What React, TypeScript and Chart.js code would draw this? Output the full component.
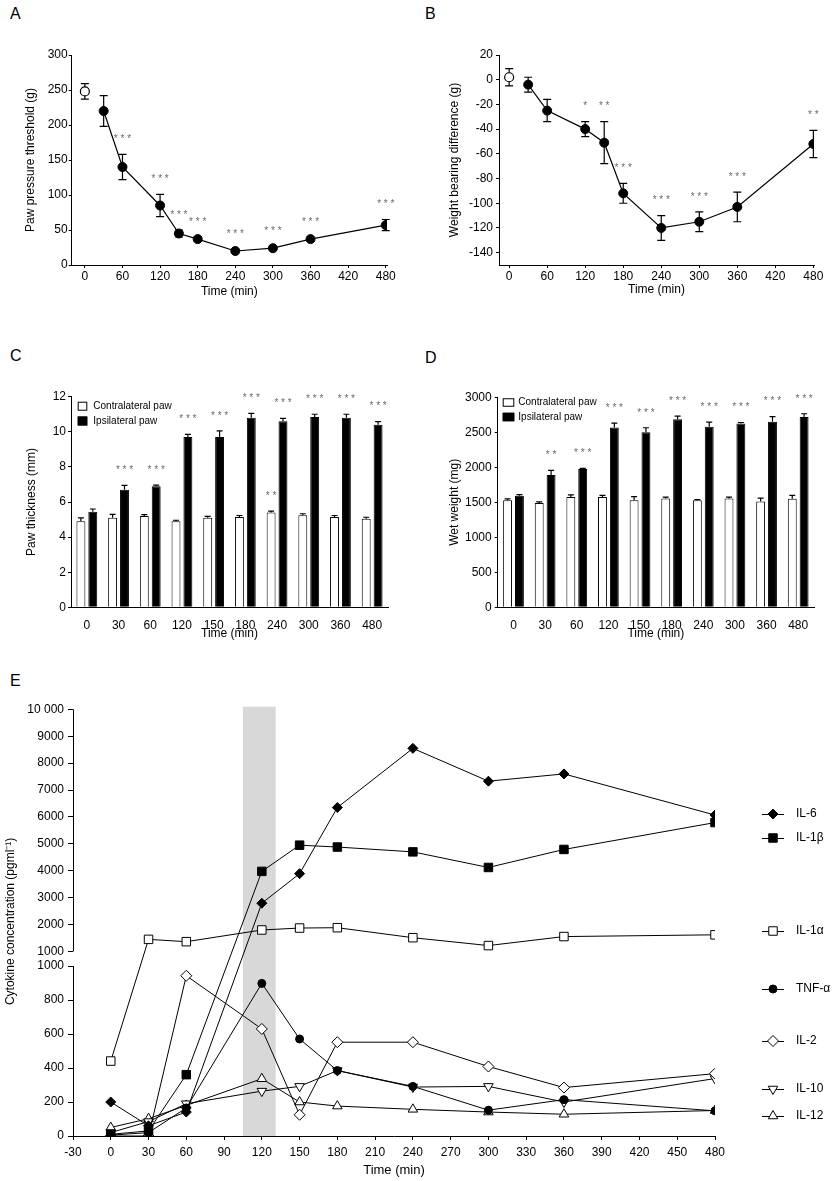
import React, { useEffect, useRef } from 'react';
import { Chart, registerables } from 'chart.js';

Chart.register(...registerables);

const FONT = "'Liberation Sans', Arial, Helvetica, sans-serif";
Chart.defaults.font.family = FONT;
Chart.defaults.color = '#000';

// ---------------- Panel A : paw pressure threshold ----------------
const A_BASE_TIMES = [0];
const A_BASE_VALUES = [248];
const A_BASE_ERRORS = [11];
const A_TIMES = [30, 60, 120, 150, 180, 240, 300, 360, 480];
const A_VALUES = [220, 140, 85, 45, 37, 20, 24, 37, 57];
const A_ERRORS = [22, 18, 16, 5, 3, 2, 3, 3, 8];
const A_STARS = ['', '***', '***', '***', '***', '***', '***', '***', '***'];
const A_X_TICKS = [0, 60, 120, 180, 240, 300, 360, 420, 480];
const A_Y_TICKS = [0, 50, 100, 150, 200, 250, 300];

// ---------------- Panel B : weight bearing difference ----------------
const B_BASE_TIMES = [0];
const B_BASE_VALUES = [2];
const B_BASE_ERRORS = [7];
const B_TIMES = [30, 60, 120, 150, 180, 240, 300, 360, 480];
const B_VALUES = [-4, -25, -40, -51, -92, -120, -115, -103, -52];
const B_ERRORS = [6, 9, 6, 17, 8, 10, 8, 12, 11];
const B_STARS = ['', '', '*', '**', '***', '***', '***', '***', '**'];
const B_X_TICKS = [0, 60, 120, 180, 240, 300, 360, 420, 480];
const B_Y_TICKS = [-140, -120, -100, -80, -60, -40, -20, 0, 20];

// ---------------- Panel C : paw thickness ----------------
const BAR_TIMES = ['0', '30', '60', '120', '150', '180', '240', '300', '360', '480'];
const C_CONTRA = [4.9, 5.1, 5.2, 4.9, 5.1, 5.15, 5.4, 5.25, 5.15, 5.05];
const C_CONTRA_ERR = [0.2, 0.2, 0.08, 0.06, 0.08, 0.08, 0.08, 0.08, 0.08, 0.08];
const C_CONTRA_STARS = ['', '', '', '', '', '', '**', '', '', ''];
const C_IPSI = [5.45, 6.7, 6.9, 9.7, 9.7, 10.8, 10.6, 10.85, 10.8, 10.4];
const C_IPSI_ERR = [0.15, 0.25, 0.06, 0.15, 0.35, 0.25, 0.17, 0.15, 0.2, 0.18];
const C_IPSI_STARS = ['', '***', '***', '***', '***', '***', '***', '***', '***', '***'];
const C_Y_TICKS = [0, 2, 4, 6, 8, 10, 12];

// ---------------- Panel D : wet weight ----------------
const D_CONTRA = [1530, 1490, 1575, 1575, 1530, 1555, 1530, 1555, 1510, 1550];
const D_CONTRA_ERR = [20, 15, 30, 25, 50, 20, 10, 20, 50, 50];
const D_CONTRA_STARS = ['', '', '', '', '', '', '', '', '', ''];
const D_IPSI = [1595, 1890, 1975, 2570, 2500, 2685, 2580, 2625, 2650, 2720];
const D_IPSI_ERR = [15, 65, 10, 60, 65, 45, 65, 15, 75, 45];
const D_IPSI_STARS = ['', '**', '***', '***', '***', '***', '***', '***', '***', '***'];
const D_Y_TICKS = [0, 500, 1000, 1500, 2000, 2500, 3000];

// ---------------- Panel E : cytokines ----------------
const E_TIMES = [0, 30, 60, 120, 150, 180, 240, 300, 360, 480];
const IL6 = [200, 60, 141, 2790, 3890, 6350, 8550, 7330, 7600, 6070];
const IL1B = [10, 30, 361, 3975, 4950, 4880, 4700, 4120, 4790, 5790];
const IL1A = [441, 1446, 1360, 1795, 1867, 1880, 1508, 1215, 1550, 1615];
const TNFA = [5, 20, 165, 898, 571, 385, 292, 152, 214, 148];
const IL2 = [0, 0, 943, 630, 125, 552, 552, 409, 285, 367];
const IL10 = [20, 85, 190, 264, 292, 385, 288, 292, 200, 338];
const IL12 = [50, 102, 180, 337, 200, 176, 157, 141, 128, 150];
const E_SERIES_NAMES = ['IL-6', 'IL-1β', 'IL-1α', 'TNF-α', 'IL-2', 'IL-10', 'IL-12'];
const E_X_TICKS = [-30, 0, 30, 60, 90, 120, 150, 180, 210, 240, 270, 300, 330, 360, 390, 420, 450, 480];
const E_Y_LOWER_TICKS = [0, 200, 400, 600, 800, 1000];
const E_Y_UPPER_TICKS = [1000, 2000, 3000, 4000, 5000, 6000, 7000, 8000, 9000, 10000];
const E_BAND = [105, 131];

// broken axis: lower segment 0-1000 linear; upper segment 1000-10000 compressed
const BREAK_AT = 1000;
const BREAK_GAP = 86.5;
const UPPER_RATIO = 0.1582;
function toAxis(v: number): number {
  return v <= BREAK_AT ? v : BREAK_AT + BREAK_GAP + (v - BREAK_AT) * UPPER_RATIO;
}
function upperAxis(v: number): number {
  return BREAK_AT + BREAK_GAP + (v - BREAK_AT) * UPPER_RATIO;
}
function fmtE(v: number): string {
  if (v >= 10000) return `${Math.floor(v / 1000)} ${String(v % 1000).padStart(3, '0')}`;
  return String(v);
}

// ---------------- plugins ----------------
function drawErrors(chart: any, upOnlyPass: boolean) {
  const ctx = chart.ctx;
  const yScale = chart.scales.y;
  chart.data.datasets.forEach((ds: any, di: number) => {
    if (!ds.errors || !!ds.errorUpOnly !== upOnlyPass) return;
    const meta = chart.getDatasetMeta(di);
    const cap = ds.errorCap || 8;
    ctx.save();
    ctx.strokeStyle = '#000';
    ctx.lineWidth = 1.2;
    meta.data.forEach((el: any, i: number) => {
      const raw = ds.data[i];
      const v = typeof raw === 'number' ? raw : raw.y;
      const e = ds.errors[i];
      if (!e) return;
      const x = el.x;
      const yt = yScale.getPixelForValue(v + e);
      const yb = ds.errorUpOnly ? yScale.getPixelForValue(v) : yScale.getPixelForValue(v - e);
      ctx.beginPath();
      ctx.moveTo(x, yb);
      ctx.lineTo(x, yt);
      ctx.moveTo(x - cap / 2, yt);
      ctx.lineTo(x + cap / 2, yt);
      if (!ds.errorUpOnly) {
        ctx.moveTo(x - cap / 2, yb);
        ctx.lineTo(x + cap / 2, yb);
      }
      ctx.stroke();
    });
    ctx.restore();
  });
}

const errorBarPlugin = {
  id: 'errorBars',
  beforeDatasetsDraw(chart: any) {
    drawErrors(chart, false);
  },
  afterDatasetsDraw(chart: any) {
    drawErrors(chart, true);
  },
};

const starsPlugin = {
  id: 'stars',
  afterDatasetsDraw(chart: any) {
    const ctx = chart.ctx;
    const yScale = chart.scales.y;
    ctx.save();
    ctx.font = `10px ${FONT}`;
    ctx.fillStyle = '#6a6a6a';
    ctx.textAlign = 'center';
    ctx.textBaseline = 'middle';
    chart.data.datasets.forEach((ds: any, di: number) => {
      if (!ds.stars) return;
      const meta = chart.getDatasetMeta(di);
      meta.data.forEach((el: any, i: number) => {
        const s = ds.stars[i];
        if (!s) return;
        const raw = ds.data[i];
        const v = typeof raw === 'number' ? raw : raw.y;
        const e = ds.errors ? ds.errors[i] || 0 : 0;
        const y = yScale.getPixelForValue(v + e) - 15;
        ctx.fillText(s.split('').join(' '), el.x, y);
      });
    });
    ctx.restore();
  },
};

function drawMarker(ctx: CanvasRenderingContext2D, style: string, x: number, y: number, r: number, rot: number, filled: boolean) {
  ctx.beginPath();
  if (style === 'circle') {
    ctx.arc(x, y, r, 0, Math.PI * 2);
  } else if (style === 'rect') {
    const s = r * Math.SQRT1_2;
    ctx.rect(x - s, y - s, 2 * s, 2 * s);
  } else if (style === 'rectRot') {
    ctx.moveTo(x, y - r);
    ctx.lineTo(x + r, y);
    ctx.lineTo(x, y + r);
    ctx.lineTo(x - r, y);
    ctx.closePath();
  } else {
    let a = (rot * Math.PI) / 180;
    for (let k = 0; k < 3; k++) {
      const px = x + Math.sin(a) * r;
      const py = y - Math.cos(a) * r;
      if (k === 0) ctx.moveTo(px, py);
      else ctx.lineTo(px, py);
      a += (2 * Math.PI) / 3;
    }
    ctx.closePath();
  }
  ctx.fillStyle = filled ? '#000' : '#fff';
  ctx.fill();
  ctx.lineWidth = 1;
  ctx.strokeStyle = '#000';
  ctx.stroke();
}

function barLegendPlugin(layout: { x: number; w: number; h: number; textX: number; rows: number[] }) {
  return {
    id: 'barLegend',
    afterDraw(chart: any) {
      const ctx = chart.ctx;
      ctx.save();
      ctx.font = `10px ${FONT}`;
      ctx.textBaseline = 'middle';
      ctx.textAlign = 'left';
      chart.data.datasets.forEach((ds: any, i: number) => {
        const y = layout.rows[i];
        ctx.fillStyle = ds.backgroundColor;
        ctx.fillRect(layout.x, y - layout.h / 2, layout.w, layout.h);
        ctx.strokeStyle = '#000';
        ctx.lineWidth = 1;
        ctx.strokeRect(layout.x + 0.5, y - layout.h / 2 + 0.5, layout.w - 1, layout.h - 1);
        ctx.fillStyle = '#000';
        ctx.fillText(ds.label, layout.textX, y);
      });
      ctx.restore();
    },
  };
}

// ---------------- config builders ----------------
const plainNumber = (v: any) => String(v);

function tickAxis(opts: any) {
  return {
    grid: { display: true, drawOnChartArea: false, drawTicks: true, tickLength: opts.tickLength, color: '#000', lineWidth: 1 },
    border: { display: true, color: '#000', width: 1 },
    ticks: { autoSkip: false, maxRotation: 0, padding: opts.tickPad, font: { size: opts.tickFont || 12 }, color: '#000', callback: plainNumber },
    title: { display: true, text: opts.title, padding: 0, font: { size: opts.titleFont || 12 }, color: '#000' },
  };
}

function lineErrorConfig(p: any) {
  return {
    type: 'line',
    data: {
      datasets: [
        {
          label: 'treated',
          data: p.times.map((t: number, i: number) => ({ x: t, y: p.values[i] })),
          errors: p.errors,
          stars: p.stars,
          errorCap: 8,
          borderColor: '#000',
          borderWidth: 1.2,
          pointStyle: 'circle',
          pointRadius: 4.5,
          pointBackgroundColor: '#000',
          pointBorderColor: '#000',
          pointBorderWidth: 1,
        },
        {
          label: 'baseline',
          data: p.baseTimes.map((t: number, i: number) => ({ x: t, y: p.baseValues[i] })),
          errors: p.baseErrors,
          errorCap: 8,
          showLine: false,
          pointStyle: 'circle',
          pointRadius: 4.5,
          pointBackgroundColor: '#fff',
          pointBorderColor: '#000',
          pointBorderWidth: 1.2,
        },
      ],
    },
    options: {
      responsive: false,
      animation: false,
      devicePixelRatio: 1,
      layout: { padding: p.pad },
      plugins: { legend: { display: false }, tooltip: { enabled: false } },
      scales: {
        x: {
          type: 'linear',
          min: p.xMin,
          max: p.xMax,
          afterBuildTicks: (s: any) => {
            s.ticks = p.xTicks.map((v: number) => ({ value: v }));
          },
          afterFit: (s: any) => {
            s.height = p.xHeight;
          },
          ...tickAxis({ tickLength: 3, tickPad: 1, title: 'Time (min)' }),
        },
        y: {
          type: 'linear',
          min: p.yMin,
          max: p.yMax,
          afterBuildTicks: (s: any) => {
            s.ticks = p.yTicks.map((v: number) => ({ value: v }));
          },
          afterFit: (s: any) => {
            s.width = p.yWidth;
          },
          ...tickAxis({ tickLength: 3, tickPad: p.yTickPad, title: p.yTitle }),
        },
      },
    },
    plugins: [errorBarPlugin, starsPlugin],
  };
}

function barConfig(p: any) {
  const common = { borderColor: '#000', borderWidth: 1, barPercentage: 0.75, categoryPercentage: 0.75, errorUpOnly: true, errorCap: 6, borderSkipped: 'start' };
  const xAxis = tickAxis({ tickLength: 3, tickPad: 3, title: 'Time (min)' });
  return {
    type: 'bar',
    data: {
      labels: BAR_TIMES,
      datasets: [
        { label: 'Contralateral paw', data: p.contra, errors: p.contraErr, stars: p.contraStars, backgroundColor: '#fff', ...common },
        { label: 'Ipsilateral paw', data: p.ipsi, errors: p.ipsiErr, stars: p.ipsiStars, backgroundColor: '#000', ...common },
      ],
    },
    options: {
      responsive: false,
      animation: false,
      devicePixelRatio: 1,
      layout: { padding: p.pad },
      plugins: { legend: { display: false }, tooltip: { enabled: false } },
      scales: {
        x: {
          type: 'category',
          afterFit: (s: any) => {
            s.height = p.xHeight;
          },
          ...xAxis,
          ticks: { autoSkip: false, maxRotation: 0, padding: 3, font: { size: 12 }, color: '#000' },
          grid: { display: false },
        },
        y: {
          type: 'linear',
          min: 0,
          max: p.yMax,
          afterBuildTicks: (s: any) => {
            s.ticks = p.yTicks.map((v: number) => ({ value: v }));
          },
          afterFit: (s: any) => {
            s.width = p.yWidth;
          },
          ...tickAxis({ tickLength: 3, tickPad: p.yTickPad, title: p.yTitle }),
        },
      },
    },
    plugins: [errorBarPlugin, starsPlugin, barLegendPlugin(p.legend)],
  };
}

const E_STYLES: Record<string, { style: string; radius: number; rot: number; filled: boolean }> = {
  'IL-6': { style: 'rectRot', radius: 5, rot: 0, filled: true },
  'IL-1β': { style: 'rect', radius: 6, rot: 0, filled: true },
  'IL-1α': { style: 'rect', radius: 6, rot: 0, filled: false },
  'TNF-α': { style: 'circle', radius: 4, rot: 0, filled: true },
  'IL-2': { style: 'rectRot', radius: 5.5, rot: 0, filled: false },
  'IL-10': { style: 'triangle', radius: 5.5, rot: 180, filled: false },
  'IL-12': { style: 'triangle', radius: 5.5, rot: 0, filled: false },
};
const E_LEGEND_ROWS = [124, 148, 241, 299, 351, 399, 426];

function cytokineConfig() {
  const seriesValues = [IL6, IL1B, IL1A, TNFA, IL2, IL10, IL12];
  const yTickValues = [...E_Y_LOWER_TICKS.map((v) => v), ...E_Y_UPPER_TICKS.map((v) => upperAxis(v))];
  const yTickLabels = [...E_Y_LOWER_TICKS.map(fmtE), ...E_Y_UPPER_TICKS.map(fmtE)];
  const datasets = E_SERIES_NAMES.map((name, si) => {
    const st = E_STYLES[name];
    return {
      label: name,
      data: E_TIMES.map((t, i) => ({ x: t, y: toAxis(seriesValues[si][i]) })),
      borderColor: '#000',
      borderWidth: 1,
      pointStyle: st.style,
      pointRadius: st.radius,
      pointRotation: st.rot,
      pointBackgroundColor: st.filled ? '#000' : '#fff',
      pointBorderColor: '#000',
      pointBorderWidth: 1,
    };
  });
  const bandPlugin = {
    id: 'band',
    beforeDatasetsDraw(chart: any) {
      const { ctx, chartArea } = chart;
      const xs = chart.scales.x;
      const ys = chart.scales.y;
      const x0 = xs.getPixelForValue(E_BAND[0]);
      const x1 = xs.getPixelForValue(E_BAND[1]);
      ctx.save();
      ctx.fillStyle = '#d8d8d8';
      ctx.fillRect(x0, chartArea.top, x1 - x0, ys.getPixelForValue(0) - chartArea.top);
      ctx.restore();
    },
  };
  const brokenAxisPlugin = {
    id: 'brokenAxis',
    afterDraw(chart: any) {
      const { ctx, chartArea } = chart;
      const ys = chart.scales.y;
      const x = Math.round(chartArea.left) + 0.5;
      ctx.save();
      ctx.strokeStyle = '#000';
      ctx.lineWidth = 1;
      ctx.beginPath();
      ctx.moveTo(x, ys.getPixelForValue(0));
      ctx.lineTo(x, ys.getPixelForValue(toAxis(BREAK_AT)));
      ctx.moveTo(x, ys.getPixelForValue(upperAxis(BREAK_AT)));
      ctx.lineTo(x, ys.getPixelForValue(toAxis(10000)));
      ctx.stroke();
      // legend
      ctx.font = `12px ${FONT}`;
      ctx.textBaseline = 'middle';
      ctx.textAlign = 'left';
      E_SERIES_NAMES.forEach((name, i) => {
        const y = E_LEGEND_ROWS[i];
        const st = E_STYLES[name];
        ctx.beginPath();
        ctx.moveTo(762, y + 0.5);
        ctx.lineTo(784, y + 0.5);
        ctx.strokeStyle = '#000';
        ctx.lineWidth = 1;
        ctx.stroke();
        drawMarker(ctx, st.style, 773, y, st.radius, st.rot, st.filled);
        ctx.fillStyle = '#000';
        ctx.fillText(name, 796, y);
      });
      ctx.restore();
    },
  };
  return {
    type: 'line',
    data: { datasets },
    options: {
      responsive: false,
      animation: false,
      devicePixelRatio: 1,
      layout: { padding: { left: 3.8, right: 122, top: 16.7, bottom: 3.2 } },
      plugins: { legend: { display: false }, tooltip: { enabled: false } },
      scales: {
        x: {
          type: 'linear',
          min: -30,
          max: 480,
          afterBuildTicks: (s: any) => {
            s.ticks = E_X_TICKS.map((v) => ({ value: v }));
          },
          afterFit: (s: any) => {
            s.height = 41.8;
          },
          ...tickAxis({ tickLength: 4, tickPad: 5, title: 'Time (min)', titleFont: 13 }),
        },
        y: {
          type: 'linear',
          min: 0,
          max: toAxis(10100),
          afterBuildTicks: (s: any) => {
            s.ticks = yTickValues.map((v) => ({ value: v }));
          },
          afterFit: (s: any) => {
            s.width = 69.2;
          },
          ...tickAxis({ tickLength: 5, tickPad: 4, title: 'Cytokine concentration (pgml⁻¹)' }),
          border: { display: false },
          ticks: {
            autoSkip: false,
            padding: 4,
            font: { size: 12 },
            color: '#000',
            callback: (_v: any, idx: number) => yTickLabels[idx],
          },
        },
      },
    },
    plugins: [bandPlugin, brokenAxisPlugin],
  };
}

// ---------------- components ----------------
function ChartBox({ left, top, width, height, make }: { left: number; top: number; width: number; height: number; make: () => any }) {
  const ref = useRef<HTMLCanvasElement>(null);
  useEffect(() => {
    const chart = new Chart(ref.current as HTMLCanvasElement, make());
    return () => chart.destroy();
  }, []);
  return <canvas ref={ref} width={width} height={height} style={{ position: 'absolute', left, top, width, height }} />;
}

function Letter({ x, y, children }: { x: number; y: number; children: string }) {
  return (
    <div style={{ position: 'absolute', left: x, top: y, fontSize: 16, lineHeight: '16px', fontFamily: FONT, color: '#000' }}>{children}</div>
  );
}

export default function App() {
  return (
    <div style={{ position: 'relative', width: 837, height: 1181, background: '#fff', overflow: 'hidden' }}>
      <style>{'body{margin:0;background:#fff}'}</style>
      <Letter x={10} y={6}>A</Letter>
      <Letter x={425} y={6}>B</Letter>
      <Letter x={10} y={348}>C</Letter>
      <Letter x={425} y={350}>D</Letter>
      <Letter x={10} y={673}>E</Letter>
      <ChartBox
        left={0}
        top={0}
        width={420}
        height={330}
        make={() =>
          lineErrorConfig({
            baseTimes: A_BASE_TIMES, baseValues: A_BASE_VALUES, baseErrors: A_BASE_ERRORS,
            times: A_TIMES, values: A_VALUES, errors: A_ERRORS, stars: A_STARS,
            xMin: -21, xMax: 482, xTicks: A_X_TICKS, yMin: 0, yMax: 300, yTicks: A_Y_TICKS,
            yTitle: 'Paw pressure threshold (g)',
            pad: { left: 23.8, right: 33, top: 55, bottom: 31.1 }, yWidth: 47.9, xHeight: 33.9, yTickPad: 1,
          })
        }
      />
      <ChartBox
        left={420}
        top={0}
        width={417}
        height={330}
        make={() =>
          lineErrorConfig({
            baseTimes: B_BASE_TIMES, baseValues: B_BASE_VALUES, baseErrors: B_BASE_ERRORS,
            times: B_TIMES, values: B_VALUES, errors: B_ERRORS, stars: B_STARS,
            xMin: -16, xMax: 481, xTicks: B_X_TICKS, yMin: -150, yMax: 20, yTicks: B_Y_TICKS,
            yTitle: 'Weight bearing difference (g)',
            pad: { left: 27.8, right: 23, top: 55, bottom: 33.5 }, yWidth: 51.2, xHeight: 31.5, yTickPad: 3,
          })
        }
      />
      <ChartBox
        left={0}
        top={340}
        width={420}
        height={340}
        make={() =>
          barConfig({
            contra: C_CONTRA, contraErr: C_CONTRA_ERR, contraStars: C_CONTRA_STARS,
            ipsi: C_IPSI, ipsiErr: C_IPSI_ERR, ipsiStars: C_IPSI_STARS,
            yMax: 12, yTicks: C_Y_TICKS, yTitle: 'Paw thickness (mm)',
            pad: { left: 24.5, right: 32, top: 56.7, bottom: 39.5 }, yWidth: 46.5, xHeight: 33.2, yTickPad: 2,
            legend: { x: 77.7, w: 9.6, h: 9, textX: 93.3, rows: [66.2, 81] },
          })
        }
      />
      <ChartBox
        left={420}
        top={340}
        width={417}
        height={340}
        make={() =>
          barConfig({
            contra: D_CONTRA, contraErr: D_CONTRA_ERR, contraStars: D_CONTRA_STARS,
            ipsi: D_IPSI, ipsiErr: D_IPSI_ERR, ipsiStars: D_IPSI_STARS,
            yMax: 3000, yTicks: D_Y_TICKS, yTitle: 'Wet weight (mg)',
            pad: { left: 27.8, right: 23, top: 57.3, bottom: 38.8 }, yWidth: 49.9, xHeight: 33.9, yTickPad: 3,
            legend: { x: 82.7, w: 11.6, h: 8.5, textX: 98.3, rows: [62.5, 77] },
          })
        }
      />
      <ChartBox left={0} top={690} width={837} height={491} make={cytokineConfig} />
    </div>
  );
}
